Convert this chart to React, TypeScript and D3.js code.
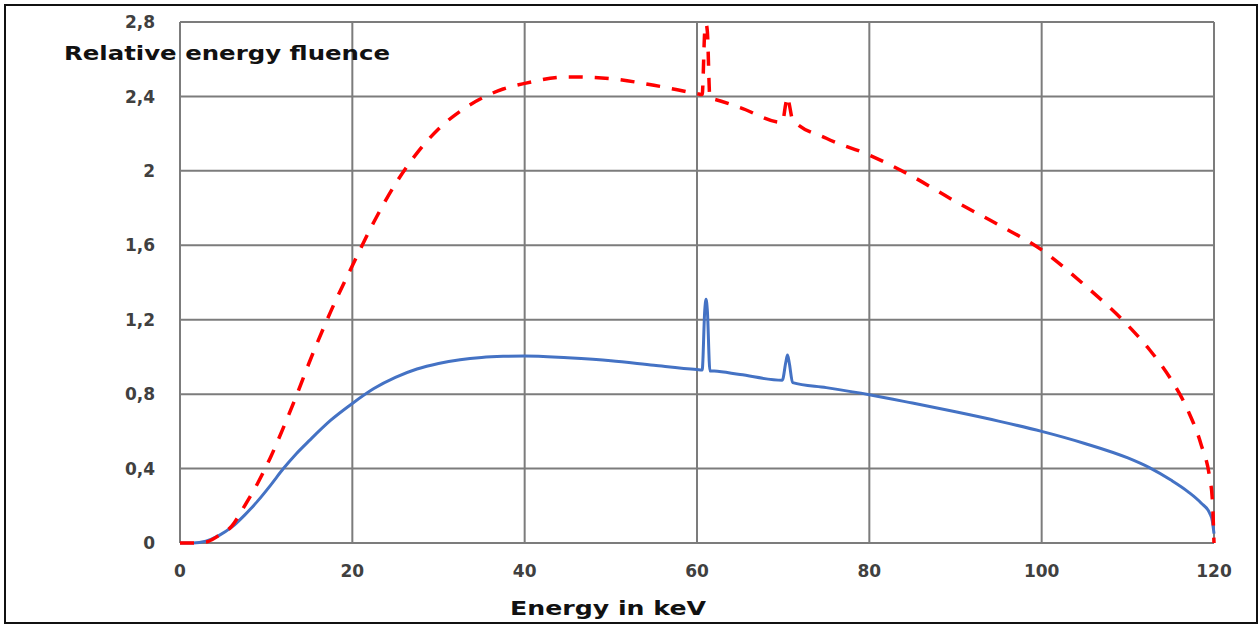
import * as d3 from "d3";
import React, { useEffect, useRef } from "react";

// energy grid in keV (denser around the characteristic lines)
const energies = [
  0, 1.5, 3, 4.5, 6, 7.5, 9, 10.5, 12, 13.5, 15, 17.5, 20, 22.5, 25, 27.5, 30,
  32.5, 35, 37.5, 40, 45, 50, 55, 60, 60.6, 60.9, 61.05, 61.2, 61.5, 62, 65,
  69.9, 70.3, 70.5, 70.7, 71.1, 75, 80, 85, 90, 95, 100, 105, 110, 112.5, 115,
  117, 118.5, 119.5, 119.8, 120,
];

// solid blue curve
const fluence = [
  0, 0, 0.01, 0.04, 0.085, 0.15, 0.225, 0.31, 0.4, 0.48, 0.55, 0.66, 0.75,
  0.83, 0.89, 0.935, 0.965, 0.985, 0.997, 1.003, 1.005, 0.995, 0.98, 0.955,
  0.932, 0.93, 1.25, 1.31, 1.25, 0.925, 0.924, 0.905, 0.875, 0.97, 1.01, 0.97,
  0.862, 0.835, 0.797, 0.752, 0.705, 0.655, 0.6, 0.535, 0.457, 0.405, 0.338,
  0.275, 0.215, 0.16, 0.12, 0.05,
];

// dashed red curve
const energyFluence = [
  0, 0, 0.005, 0.04, 0.09, 0.2, 0.32, 0.46, 0.62, 0.79, 0.97, 1.245, 1.49,
  1.725, 1.93, 2.095, 2.225, 2.32, 2.39, 2.44, 2.47, 2.505, 2.495, 2.46, 2.415,
  2.41, 2.75, 2.79, 2.75, 2.39, 2.385, 2.34, 2.26, 2.36, 2.4, 2.36, 2.275,
  2.175, 2.085, 1.97, 1.835, 1.71, 1.575, 1.385, 1.17, 1.04, 0.88, 0.71, 0.53,
  0.35, 0.24, 0,
];

const xTicks = [0, 20, 40, 60, 80, 100, 120];
const yTicks = [0, 0.4, 0.8, 1.2, 1.6, 2, 2.4, 2.8];
const yTickLabels = ["0", "0,4", "0,8", "1,2", "1,6", "2", "2,4", "2,8"];

const width = 1260;
const height = 626;
const font = "'DejaVu Sans', sans-serif";

export default function App() {
  const ref = useRef<SVGSVGElement>(null);

  useEffect(() => {
    const svg = d3.select(ref.current);
    svg.selectAll("*").remove();

    const x = d3.scaleLinear().domain([0, 120]).range([180, 1214]);
    const y = d3.scaleLinear().domain([0, 2.8]).range([543, 22]);

    svg
      .append("rect")
      .attr("x", 5)
      .attr("y", 5)
      .attr("width", 1252)
      .attr("height", 618)
      .attr("fill", "white")
      .attr("stroke", "#111")
      .attr("stroke-width", 2);

    const grid = svg.append("g").attr("stroke", "#7c7c7c").attr("stroke-width", 2);
    grid
      .selectAll("line.h")
      .data(yTicks)
      .join("line")
      .attr("class", "h")
      .attr("x1", x(0))
      .attr("x2", x(120))
      .attr("y1", (d) => y(d))
      .attr("y2", (d) => y(d));
    grid
      .selectAll("line.v")
      .data(xTicks)
      .join("line")
      .attr("class", "v")
      .attr("x1", (d) => x(d))
      .attr("x2", (d) => x(d))
      .attr("y1", y(0))
      .attr("y2", y(2.8));

    svg
      .append("g")
      .selectAll("text")
      .data(yTicks)
      .join("text")
      .attr("x", 155)
      .attr("y", (d) => y(d))
      .attr("dy", "0.36em")
      .attr("text-anchor", "end")
      .attr("font-family", font)
      .attr("font-weight", 700)
      .attr("font-size", 17)
      .attr("fill", "#404040")
      .text((d, i) => yTickLabels[i]);

    svg
      .append("g")
      .selectAll("text")
      .data(xTicks)
      .join("text")
      .attr("x", (d) => x(d))
      .attr("y", 577)
      .attr("text-anchor", "middle")
      .attr("font-family", font)
      .attr("font-weight", 700)
      .attr("font-size", 17)
      .attr("fill", "#404040")
      .text((d) => d);

    const line = d3
      .line<number>()
      .x((d, i) => x(energies[i]))
      .y((d) => y(d))
      .curve(d3.curveMonotoneX);

    svg
      .append("path")
      .datum(fluence)
      .attr("d", line)
      .attr("fill", "none")
      .attr("stroke", "#4472C4")
      .attr("stroke-width", 3);

    svg
      .append("path")
      .datum(energyFluence)
      .attr("d", line)
      .attr("fill", "none")
      .attr("stroke", "#FF0000")
      .attr("stroke-width", 3.5)
      .attr("stroke-dasharray", "14,12");

    svg
      .append("text")
      .attr("x", 64)
      .attr("y", 60)
      .attr("font-family", font)
      .attr("font-weight", 700)
      .attr("font-size", 20)
      .attr("fill", "#111")
      .attr("textLength", 326)
      .attr("lengthAdjust", "spacingAndGlyphs")
      .text("Relative energy fluence");

    svg
      .append("text")
      .attr("x", 510)
      .attr("y", 615)
      .attr("font-family", font)
      .attr("font-weight", 700)
      .attr("font-size", 20)
      .attr("fill", "#111")
      .attr("textLength", 196)
      .attr("lengthAdjust", "spacingAndGlyphs")
      .text("Energy in keV");
  }, []);

  return (
    <svg
      ref={ref}
      width={width}
      height={height}
      style={{ position: "absolute", left: 0, top: 0, display: "block" }}
    />
  );
}
